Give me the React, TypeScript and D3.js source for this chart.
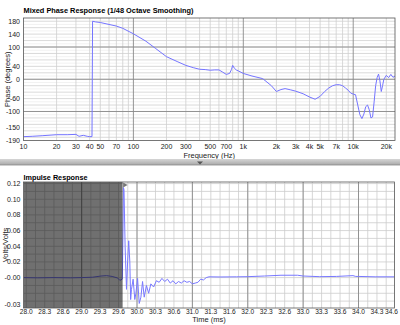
import React from "react";
import * as d3 from "d3";

const phaseFreq = [10, 12, 15, 20, 25, 30, 32, 35, 38, 40, 42, 42.5, 45, 50, 60, 70, 80, 100, 130, 160, 200, 250, 300, 350, 400, 450, 500, 550, 600, 650, 700, 750, 780, 800, 830, 870, 900, 1000, 1200, 1500, 1800, 2000, 2200, 2400, 2700, 3000, 3500, 4000, 4500, 5000, 5500, 6000, 6500, 7000, 7500, 8000, 8500, 9000, 9500, 10000, 10500, 11000, 11500, 12000, 12500, 13000, 13500, 14000, 14500, 15000, 15500, 16000, 16500, 17000, 17500, 18000, 18500, 19000, 20000, 21000, 22000, 23000, 24000];
const phaseDeg = [-178, -177, -175, -172, -172, -171, -177, -174, -177, -178, -178, 180, 178, 176, 170, 165, 158, 141, 118, 95, 70, 55, 43, 36, 31, 30, 28, 29, 29, 22, 15, 18, 30, 43, 34, 28, 26, 18, 10, 2, -20, -38, -32, -29, -33, -37, -45, -55, -62, -53, -38, -27, -20, -17, -17, -20, -27, -34, -43, -46, -48, -80, -110, -122, -108, -85, -80, -95, -120, -117, -70, -20, 5, 16, -5, -38, -20, 0, 12, 5, 15, 6, 10];

const freqTicks = [10, 20, 30, 40, 50, 70, 100, 200, 300, 500, 700, 1000, 2000, 3000, 4000, 5000, 7000, 10000, 20000];
const freqTickLabels = ["10", "20", "30", "40", "50", "70", "100", "200", "300", "500", "700", "1k", "2k", "3k", "4k", "5k", "7k", "10k", "20k"];
const phaseTicks = [180, 140, 100, 40, 0, -60, -100, -150, -190];

const impTime = [27.95, 28.2, 28.5, 28.8, 29.0, 29.2, 29.35, 29.45, 29.55, 29.65, 29.69, 29.735, 29.745, 29.755, 29.765, 29.785, 29.81, 29.83, 29.85, 29.87, 29.885, 29.9, 29.93, 29.96, 29.98, 30.01, 30.04, 30.07, 30.1, 30.13, 30.17, 30.21, 30.25, 30.3, 30.35, 30.4, 30.45, 30.5, 30.55, 30.6, 30.65, 30.7, 30.75, 30.8, 30.85, 30.9, 30.95, 31.0, 31.05, 31.1, 31.15, 31.2, 31.25, 31.3, 31.5, 31.8, 32.0, 32.3, 32.6, 32.9, 33.0, 33.3, 33.6, 33.9, 33.95, 34.0, 34.3, 34.65];
const impVal = [0.0, -0.0003, 0.0, -0.0003, 0.0, 0.0005, 0.002, 0.0025, 0.0015, -0.0005, -0.0035, -0.002, 0.05, 0.115, 0.112, 0.04, -0.015, 0.02, 0.047, 0.02, -0.028, -0.015, -0.002, -0.028, -0.02, -0.001, -0.033, -0.025, -0.005, -0.025, -0.01, -0.02, -0.008, -0.012, -0.004, -0.006, -0.001, -0.005, -0.002, -0.007, -0.004, -0.008, -0.005, -0.007, -0.004, -0.006, -0.005, -0.008, -0.007, -0.006, -0.002, -0.003, 0.0, 0.001, 0.0008, 0.001, 0.0012, 0.002, 0.003, 0.003, 0.002, 0.0012, 0.0015, 0.0025, 0.0015, 0.0015, 0.001, 0.001];

const voltTicks = [0.12, 0.1, 0.08, 0.06, 0.04, 0.02, 0, -0.034];
const voltTickLabels = ["0.12", "0.10", "0.08", "0.06", "0.04", "0.02", "-0.00", "-0.03"];
const timeTickLabels = ["28.0", "28.3", "28.6", "29.0", "29.3", "29.6", "30.0", "30.3", "30.6", "31.0", "31.3", "31.6", "32.0", "32.3", "32.6", "33.0", "33.3", "33.6", "34.0", "34.3", "34.6"];
const shadeEnd = 29.74;

const FONT = "'Liberation Sans', Arial, sans-serif";

export default function App() {
  // top chart
  const tL = 23.5, tR = 395, tT = 18, tB = 140.5;
  const x1 = d3.scaleLog().domain([10, 24000]).range([tL, tR]);
  const y1 = d3.scaleLinear().domain([-190, 190]).range([tB, tT]);
  const phaseLine = d3.line<number>().x((d, i) => x1(phaseFreq[i])).y((d) => y1(d));

  const minorF: number[] = [];
  [10, 100, 1000, 10000].forEach((dec) => {
    for (let k = 2; k <= 9; k++) if (dec * k <= 24000) minorF.push(dec * k);
  });
  const majorF = [100, 1000, 10000];
  const hLight = d3.range(-180, 181, 20);
  const hDot = d3.range(-170, 181, 20);
  const hDark = [-100, 0, 100];

  // bottom chart
  const bL = 23.5, bR = 394.5, bT = 182, bB = 308;
  const x2 = d3.scaleLinear().domain([27.95, 34.65]).range([bL, bR]);
  const y2 = d3.scaleLinear().domain([-0.0388, 0.122]).range([bB, bT]);
  const impLine = d3.line<number>().x((d, i) => x2(impTime[i])).y((d) => y2(d));
  const timeTicks = timeTickLabels.map((_, i) => 28 + i / 3);
  const vLight = d3.range(0, 41).map((i) => 28 + i / 6).filter((t) => t < 34.65);
  const vDark = [29, 30, 31, 32, 33, 34];
  const hLines2 = d3.range(-3, 13).map((i) => i / 100);

  return (
    <svg width={400} height={325} style={{ position: "absolute", left: 0, top: 0, background: "#fff" }} fontFamily={FONT}>
      <defs>
        <clipPath id="c1"><rect x={tL} y={tT} width={tR - tL} height={tB - tT} /></clipPath>
        <clipPath id="c2"><rect x={bL} y={bT} width={bR - bL} height={bB - bT} /></clipPath>
        <linearGradient id="sep" x1="0" y1="0" x2="0" y2="1">
          <stop offset="0" stopColor="#d6d6d6" />
          <stop offset="1" stopColor="#a8a8a8" />
        </linearGradient>
      </defs>
      <rect x={0} y={0} width={400} height={325} fill="#fff" />

      {/* TOP CHART */}
      <text x={tL} y={12.5} fontSize={8} fontWeight="bold" textLength={170} lengthAdjust="spacingAndGlyphs">Mixed Phase Response (1/48 Octave Smoothing)</text>
      <rect x={tL} y={tT} width={tR - tL} height={tB - tT} fill="#fff" />
      <g clipPath="url(#c1)">
        {hDot.map((v) => (
          <line key={"hd" + v} x1={tL} x2={tR} y1={y1(v)} y2={y1(v)} stroke="#d8d8d8" strokeWidth={0.7} strokeDasharray="1,1" />
        ))}
        {hLight.map((v) => (
          <line key={"hl" + v} x1={tL} x2={tR} y1={y1(v)} y2={y1(v)} stroke="#d0d0d0" strokeWidth={0.8} />
        ))}
        {minorF.map((f) => (
          <line key={"vf" + f} x1={x1(f)} x2={x1(f)} y1={tT} y2={tB} stroke="#cfcfcf" strokeWidth={0.8} />
        ))}
        {hDark.map((v) => (
          <line key={"hk" + v} x1={tL} x2={tR} y1={y1(v)} y2={y1(v)} stroke="#8a8a8a" strokeWidth={0.9} />
        ))}
        {majorF.map((f) => (
          <line key={"vk" + f} x1={x1(f)} x2={x1(f)} y1={tT} y2={tB} stroke="#8a8a8a" strokeWidth={0.9} />
        ))}
        <path d={phaseLine(phaseDeg) || ""} fill="none" stroke="#7474ff" strokeWidth={1} />
      </g>
      <rect x={tL} y={tT} width={tR - tL} height={tB - tT} fill="none" stroke="#555" strokeWidth={0.8} />
      {phaseTicks.map((v) => (
        <text key={"pt" + v} x={20} y={y1(v) + 2.5} fontSize={7} textAnchor="end" fill="#222">{v}</text>
      ))}
      {freqTicks.map((f, i) => (
        <text key={"ft" + f} x={x1(f)} y={148.5} fontSize={7} textAnchor="middle" fill="#222">{freqTickLabels[i]}</text>
      ))}
      <text x={(tL + tR) / 2} y={157.5} fontSize={7.5} textAnchor="middle" fill="#222">Frequency (Hz)</text>
      <text transform={`translate(9.5,${(tT + tB) / 2}) rotate(-90)`} fontSize={7.5} textAnchor="middle" fill="#222">Phase (degrees)</text>

      {/* SEPARATOR */}
      <rect x={0} y={159} width={400} height={6} fill="url(#sep)" />
      <line x1={0} x2={400} y1={165} y2={165} stroke="#888" strokeWidth={0.8} />
      <path d="M197,161.5 L203,161.5 L200,164.5 Z" fill="#555" />

      {/* BOTTOM CHART */}
      <text x={bL} y={179.5} fontSize={8} fontWeight="bold" textLength={64} lengthAdjust="spacingAndGlyphs">Impulse Response</text>
      <rect x={bL} y={bT} width={bR - bL} height={bB - bT} fill="#fff" />
      <g clipPath="url(#c2)">
        {hLines2.map((v) => (
          <line key={"h2" + v} x1={bL} x2={bR} y1={y2(v)} y2={y2(v)} stroke="#cdcdcd" strokeWidth={0.8} />
        ))}
        {vLight.map((t) => (
          <line key={"v2" + t} x1={x2(t)} x2={x2(t)} y1={bT} y2={bB} stroke="#cdcdcd" strokeWidth={0.8} />
        ))}
        {vDark.map((t) => (
          <line key={"vd2" + t} x1={x2(t)} x2={x2(t)} y1={bT} y2={bB} stroke="#8a8a8a" strokeWidth={0.9} />
        ))}
        <path d={impLine(impVal) || ""} fill="none" stroke="#7878ff" strokeWidth={1} />
        <rect x={bL} y={bT} width={x2(shadeEnd) - bL} height={bB - bT} fill="#000" fillOpacity={0.56} />
      </g>
      <path d={`M${x2(shadeEnd) + 0.5},${bT + 0.5} L${x2(shadeEnd) + 5},${bT + 3} L${x2(shadeEnd) + 0.5},${bT + 5.5} Z`} fill="#777" />
      <rect x={bL} y={bT} width={bR - bL} height={bB - bT} fill="none" stroke="#555" strokeWidth={0.8} />
      {voltTicks.map((v, i) => (
        <text key={"vt" + i} x={20.5} y={y2(v) + 2.5} fontSize={7} textAnchor="end" fill="#222">{voltTickLabels[i]}</text>
      ))}
      {timeTicks.map((t, i) => (
        <text key={"tt" + i} x={i === timeTicks.length - 1 ? 391.5 : x2(t)} y={314} fontSize={6.6} textAnchor="middle" fill="#222">{timeTickLabels[i]}</text>
      ))}
      <text x={(bL + bR) / 2} y={322} fontSize={7.5} textAnchor="middle" fill="#222">Time (ms)</text>
      <text transform={`translate(8,${(bT + bB) / 2}) rotate(-90)`} fontSize={7.5} textAnchor="middle" fill="#222">Volts/Volts</text>
    </svg>
  );
}
